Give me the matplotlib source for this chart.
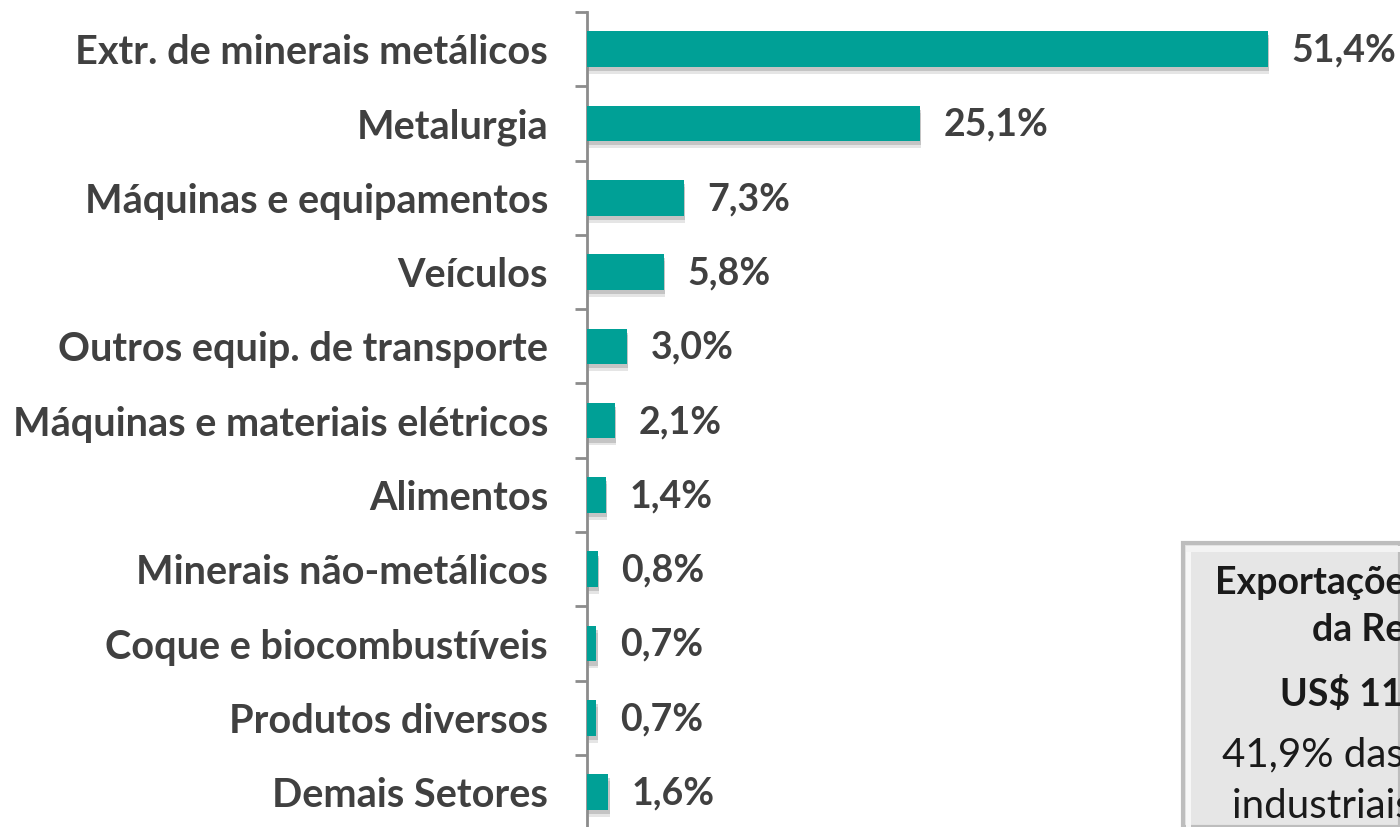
import matplotlib
matplotlib.use("Agg")
import matplotlib.pyplot as plt
import matplotlib.patheffects as pe
from matplotlib.patches import Rectangle

categories = [
    "Extr. de minerais metálicos",
    "Metalurgia",
    "Máquinas e equipamentos",
    "Veículos",
    "Outros equip. de transporte",
    "Máquinas e materiais elétricos",
    "Alimentos",
    "Minerais não-metálicos",
    "Coque e biocombustíveis",
    "Produtos diversos",
    "Demais Setores",
]
values = [51.4, 25.1, 7.3, 5.8, 3.0, 2.1, 1.4, 0.8, 0.7, 0.7, 1.6]
value_labels = ["51,4%", "25,1%", "7,3%", "5,8%", "3,0%", "2,1%", "1,4%", "0,8%", "0,7%", "0,7%", "1,6%"]

box_lines = [
    ("Exportações industriais", "bold"),
    ("da Região Norte", "bold"),
    ("US$ 11,5 bilhões", "bold"),
    ("41,9% das exportações", "normal"),
    ("industriais do estado", "normal"),
]

W, H = 1400, 827
fig = plt.figure(figsize=(W / 100, H / 100), dpi=100)
x0 = 587
top = 12
bottom = 12 + 11 * 74.3
ax = fig.add_axes([x0 / W, (H - bottom) / H, (W - x0) / W, (bottom - top) / H])

px_per_unit = 13.25
ax.set_xlim(0, (W - x0) / px_per_unit)
n = len(categories)
ax.set_ylim(n - 0.5, -0.5)

teal = "#00A096"
txt = "#404040"
font = "Lato"

ys = list(range(n))
bars = ax.barh(ys, values, height=0.48, color=teal, zorder=3)
for b in bars:
    b.set_path_effects([
        pe.SimplePatchShadow(offset=(1, -5), shadow_rgbFace="#999999", alpha=0.25),
        pe.SimplePatchShadow(offset=(1, -3), shadow_rgbFace="#888888", alpha=0.35),
        pe.Normal(),
    ])

for y, v, lab in zip(ys, values, value_labels):
    ax.annotate(lab, (v, y), xytext=(17, -1), textcoords="offset points",
                ha="left", va="center", fontsize=27, fontweight="bold",
                color=txt, family=font, annotation_clip=False)

ax.set_yticks([i - 0.5 for i in range(n + 1)])
ax.set_yticklabels([])
ax.set_yticks(ys, minor=True)
ax.set_yticklabels(categories, minor=True, fontsize=28.5, fontweight="bold",
                   color=txt, family=font)
ax.tick_params(axis="y", which="minor", length=0, pad=28)
ax.tick_params(axis="y", which="major", length=9, width=2, color="#8c8c8c")
ax.set_xticks([])
for s in ["top", "right", "bottom"]:
    ax.spines[s].set_visible(False)
ax.spines["left"].set_color("#8c8c8c")
ax.spines["left"].set_linewidth(2)

# Info box (partially outside the figure)
bx, by = 1183, 543
fig.patches.append(Rectangle((bx / W, 0), (W - bx) / W, (H - by) / H,
                             transform=fig.transFigure, facecolor="#e6e6e6",
                             edgecolor="#bdbdbd", linewidth=3, zorder=5))
fig.patches.append(Rectangle(((bx + 3) / W, 0), 5 / W, (H - by - 3) / H,
                             transform=fig.transFigure, facecolor="#f7f7f7",
                             edgecolor="none", zorder=6))
fig.patches.append(Rectangle(((bx + 3) / W, (H - by - 9) / H), (W - bx) / W, 6 / H,
                             transform=fig.transFigure, facecolor="#f3f3f3",
                             edgecolor="none", zorder=6))
line_pos = [(1215, 583), (1312, 630), (1280, 693), (1222, 755), (1232, 806)]
line_size = [27, 27, 27, 29, 29]
for (t, w), (lx, ly), fs in zip(box_lines, line_pos, line_size):
    fig.text(lx / W, 1 - ly / H, t, ha="left", va="center", fontsize=fs,
             fontweight=w, color="#1a1a1a", family=font, zorder=7)

fig.savefig("out.png", dpi=100)
